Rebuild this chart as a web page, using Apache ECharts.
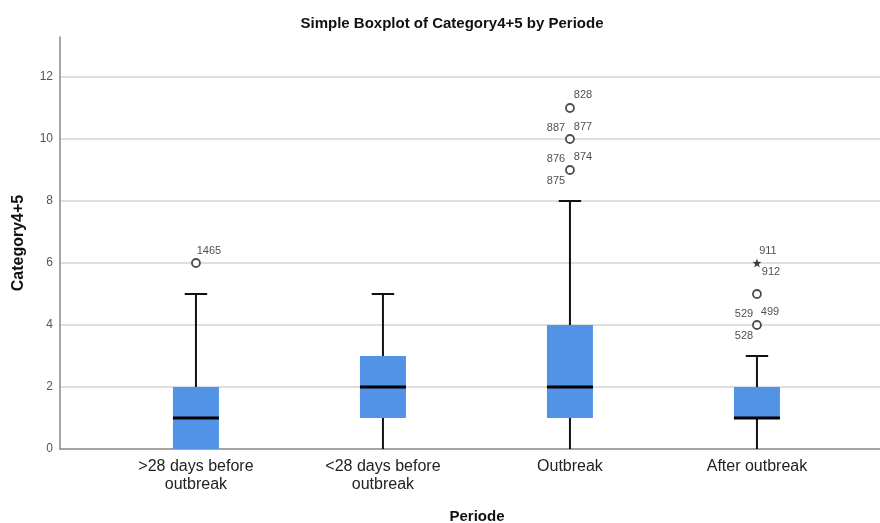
<!DOCTYPE html>
<html>
<head>
<meta charset="utf-8">
<script src="https://cdn.jsdelivr.net/npm/echarts@6/dist/echarts.min.js"></script>
<style>html,body{margin:0;padding:0;background:#fff;overflow:hidden}#c{width:880px;height:523px}</style>
</head>
<body>
<div id="c"></div>
<script>
var categories = ['>28 days before\noutbreak', '<28 days before\noutbreak', 'Outbreak', 'After outbreak'];
// [min, Q1, median, Q3, max] (whisker ends and quartiles)
var boxMin    = [0, 0, 0, 0];
var boxQ1     = [0, 1, 1, 1];
var boxMedian = [1, 2, 2, 1];
var boxQ3     = [2, 3, 4, 2];
var boxMax    = [5, 5, 8, 3];
// outliers: [categoryIndex, value]
var outliers = [[0, 6], [2, 9], [2, 10], [2, 11], [3, 4], [3, 5]];
// extreme values: [categoryIndex, value]
var extremes = [[3, 6]];
// case labels: [categoryIndex, value, caseId]
var caseLabels = [
  [0, 6, '1465'],
  [2, 11, '828'], [2, 10, '887'], [2, 10, '877'],
  [2, 9, '876'], [2, 9, '874'], [2, 9, '875'],
  [3, 6, '911'], [3, 6, '912'],
  [3, 4, '529'], [3, 4, '499'], [3, 4, '528']
];
var yTicks = [0, 2, 4, 6, 8, 10, 12];

// label placement offsets (pixels) by case id
var labelOffset = {
  '1465': [13, -12], '828': [13, -13], '887': [-14, -11], '877': [13, -12],
  '876': [-14, -11], '874': [13, -13], '875': [-14, 11],
  '911': [11, -12], '912': [14, 9], '529': [-13, -11], '499': [13, -13], '528': [-13, 11]
};

var boxData = categories.map(function (c, i) {
  return [i, boxMin[i], boxQ1[i], boxMedian[i], boxQ3[i], boxMax[i]];
});

var chart = echarts.init(document.getElementById('c'), null, {renderer: 'canvas'});
var FONT = 'Liberation Sans, Arial, sans-serif';

chart.setOption({
  animation: false,
  backgroundColor: '#ffffff',
  title: {
    text: 'Simple Boxplot of Category4+5 by Periode',
    left: 447, top: 11, textAlign: 'center',
    textStyle: {fontFamily: FONT, fontSize: 15, fontWeight: 'bold', color: '#111'}
  },
  grid: {left: 60, right: 0, top: 37, bottom: 74, containLabel: false, outerBoundsMode: 'none'},
  xAxis: {
    type: 'value',
    min: -0.727, max: 3.658,
    axisLine: {show: true, onZero: false, lineStyle: {color: '#888', width: 1.5}},
    axisTick: {show: false},
    splitLine: {show: false},
    axisLabel: {
      customValues: [0, 1, 2, 3],
      formatter: function (v) { return categories[Math.round(v)]; },
      fontFamily: FONT, fontSize: 16, color: '#222', lineHeight: 18, margin: 9
    },
    name: 'Periode', nameLocation: 'middle', nameGap: 60,
    nameTextStyle: {fontFamily: FONT, fontSize: 15, fontWeight: 'bold', color: '#111', padding: [0, 0, 0, 14]}
  },
  yAxis: {
    type: 'value', min: 0, max: 13.29, interval: 2,
    axisLine: {show: true, onZero: false, lineStyle: {color: '#888', width: 1.5}},
    axisTick: {show: false},
    splitLine: {show: true, showMaxLine: false, showMinLine: false, lineStyle: {color: '#d4d4d4', width: 1.5}},
    axisLabel: {
      customValues: yTicks,
      fontFamily: FONT, fontSize: 12, color: '#555', margin: 7
    },
    name: 'Category4+5', nameLocation: 'middle', nameGap: 33, nameRotate: 90,
    nameTextStyle: {fontFamily: FONT, fontSize: 16, fontWeight: 'bold', color: '#111'}
  },
  series: [
    {
      type: 'custom',
      data: boxData,
      renderItem: function (params, api) {
        var x = api.value(0);
        var pMin = api.coord([x, api.value(1)]);
        var pQ1 = api.coord([x, api.value(2)]);
        var pMed = api.coord([x, api.value(3)]);
        var pQ3 = api.coord([x, api.value(4)]);
        var pMax = api.coord([x, api.value(5)]);
        var unit = api.size([1, 0])[0];
        var bw = unit * 0.246;
        var cw = unit * 0.12;
        var cx = pMed[0];
        var lineStyle = {stroke: '#111', lineWidth: 2};
        return {
          type: 'group',
          children: [
            {type: 'line', shape: {x1: cx, y1: pMin[1], x2: cx, y2: pQ1[1]}, style: lineStyle},
            {type: 'line', shape: {x1: cx, y1: pQ3[1], x2: cx, y2: pMax[1]}, style: lineStyle},
            {type: 'line', shape: {x1: cx - cw / 2, y1: pMax[1], x2: cx + cw / 2, y2: pMax[1]}, style: lineStyle},
            {type: 'rect', shape: {x: cx - bw / 2, y: pQ3[1], width: bw, height: pQ1[1] - pQ3[1]}, style: {fill: '#5293e8'}},
            {type: 'line', shape: {x1: cx - bw / 2, y1: pMed[1], x2: cx + bw / 2, y2: pMed[1]}, style: {stroke: '#000', lineWidth: 3}}
          ]
        };
      },
      z: 3
    },
    {
      type: 'scatter',
      data: outliers,
      symbol: 'circle',
      symbolSize: 8,
      itemStyle: {color: '#fff', borderColor: '#222', borderWidth: 1.8},
      z: 4
    },
    {
      type: 'scatter',
      data: extremes,
      symbol: 'path://M0,-10 L2.4,-3.3 9.5,-3.1 3.9,1.3 5.9,8.1 0,4.1 -5.9,8.1 -3.9,1.3 -9.5,-3.1 -2.4,-3.3 Z',
      symbolSize: 9,
      itemStyle: {color: '#111'},
      z: 4
    },
    {
      type: 'scatter',
      data: caseLabels.map(function (d) {
        return {
          value: [d[0], d[1]],
          name: d[2],
          label: {offset: labelOffset[d[2]] || [12, -12]}
        };
      }),
      symbolSize: 0,
      silent: true,
      label: {
        show: true, position: 'inside',
        formatter: function (p) { return p.name; },
        fontFamily: FONT, fontSize: 11, color: '#222'
      },
      z: 5
    }
  ]
});
</script>
</body>
</html>
